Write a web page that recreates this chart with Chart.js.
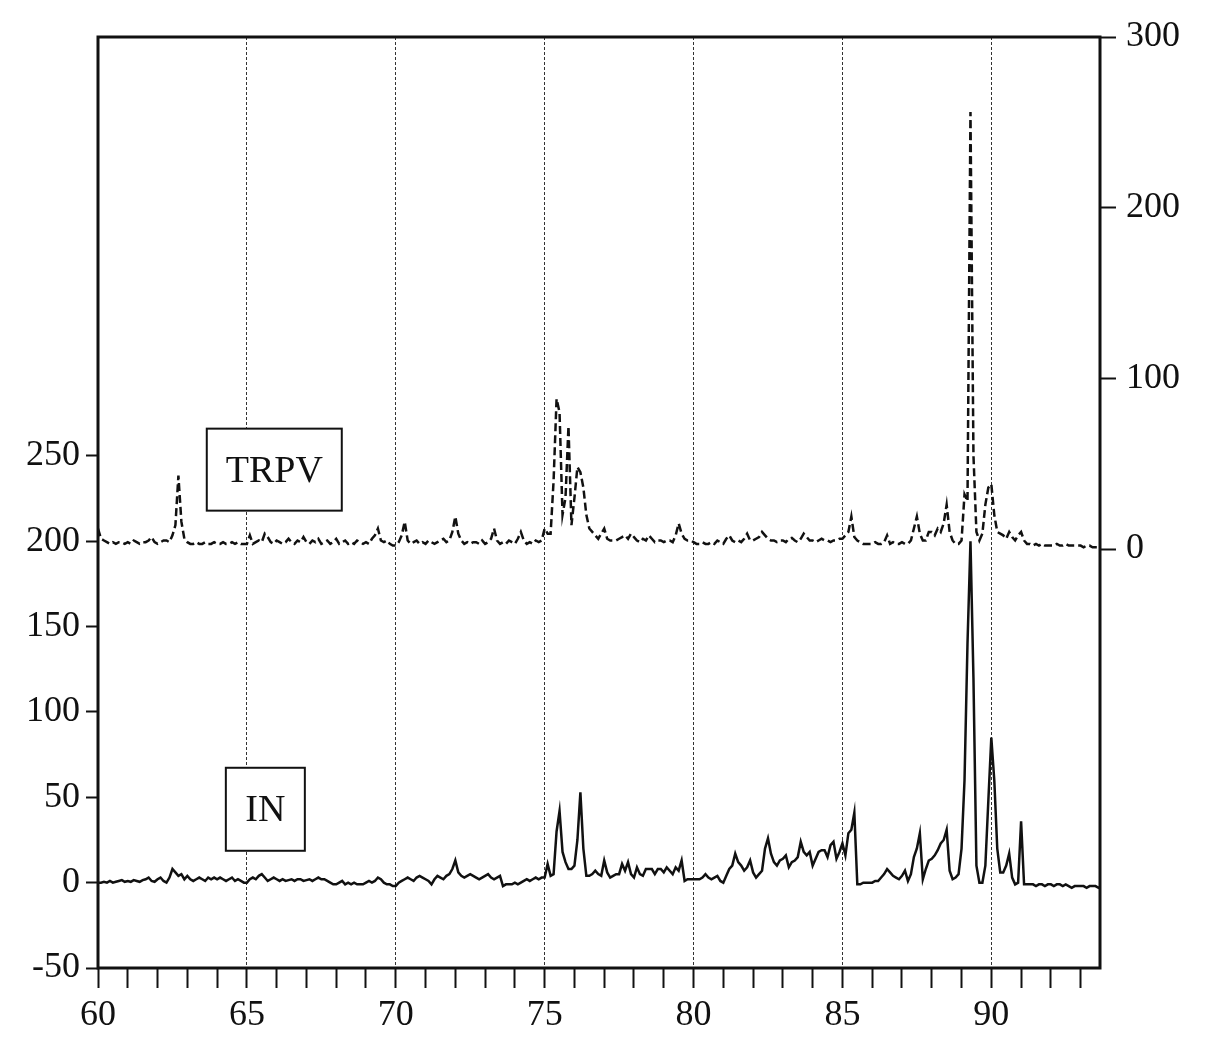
<!DOCTYPE html>
<html>
<head>
<meta charset="utf-8">
<script src="https://cdn.jsdelivr.net/npm/chart.js@4.4.1/dist/chart.umd.min.js"></script>
<style>
  html, body { margin: 0; padding: 0; background: #fff; }
  canvas { display: block; }
</style>
</head>
<body>
<canvas id="xrd" width="1212" height="1045"></canvas>
<script>
 // setup - values, 0.1 degree steps starting at 60.0
 const xStart = 60;
 const xStep = 0.1;

 // IN trace (left axis)
 const inValues = [
   0, 0, 0.5, 0, 1, 0, 0.5, 1, 1.5, 0.5,
   1, 0.5, 1.5, 1, 0.5, 1.5, 2, 3, 1, 0.5,
   2, 3, 1, 0, 3, 8, 6, 4, 5, 2,
   4, 2, 1, 2, 3, 2, 1, 3, 2, 3,
   2, 3, 2, 1, 2, 3, 1, 2, 1, 0,
   0, 2, 3, 2, 4, 5, 3, 1, 2, 3,
   2, 1, 2, 1, 1.5, 2, 1, 2, 2, 1,
   1.5, 2, 1, 2, 3, 2, 2, 1, 0, -1,
   -1, 0, 1, -1, 0, -1, 0, -1, -1, -1,
   0, 1, 0, 1, 3, 2, 0, -1, -1, -2,
   -2, 0, 1, 2, 3, 2, 1, 3, 4, 3,
   2, 1, -1, 2, 4, 3, 2, 4, 5, 8,
   13, 6, 4, 3, 4, 5, 4, 3, 2, 3,
   4, 5, 3, 2, 3, 4, -2, -1, -1, -1,
   0, -1, 0, 1, 2, 1, 2, 3, 2, 3,
   3, 11, 4, 5, 30, 42, 18, 12, 8, 8,
   10, 25, 53, 20, 4, 4, 5, 7, 5, 4,
   13, 6, 3, 4, 5, 5, 11, 7, 12, 5,
   3, 9, 5, 4, 8, 8, 8, 5, 8, 8,
   6, 9, 7, 5, 9, 7, 13, 1, 2, 2,
   2, 2, 2, 3, 5, 3, 2, 3, 4, 1,
   0, 4, 8, 10, 17, 12, 10, 7, 9, 13,
   6, 3, 5, 7, 20, 26, 17, 12, 10, 13,
   14, 16, 9, 12, 13, 15, 24, 18, 16, 18,
   10, 14, 18, 19, 19, 15, 22, 24, 14, 18,
   23, 16, 29, 31, 41, -1, -1, 0, 0, 0,
   0, 1, 1, 3, 5, 8, 6, 4, 3, 2,
   4, 7, 1, 5, 15, 20, 29, 2, 8, 13,
   14, 16, 19, 23, 25, 31, 7, 2, 3, 5,
   20, 60, 140, 200, 120, 10, 0, 0, 10, 48,
   85, 60, 20, 6, 6, 10, 17, 3, -1, 0,
   36, -1, -1, -1, -1, -2, -1, -1, -2, -1,
   -1, -2, -1, -1, -2, -1, -2, -3, -2, -2,
   -2, -2, -3, -2, -2, -2, -3, -2
 ];

 // TRPV trace (right axis)
 const trpvValues = [
   12, 6, 5, 4, 3, 4, 3, 4, 4, 3,
   4, 3, 5, 4, 3, 4, 4, 5, 7, 4,
   3, 4, 5, 5, 4, 8, 14, 43, 16, 6,
   4, 3, 3, 4, 3, 3, 4, 3, 3, 4,
   3, 3, 4, 3, 3, 4, 3, 4, 3, 3,
   3, 8, 3, 4, 5, 4, 9, 7, 4, 3,
   5, 4, 3, 4, 6, 4, 3, 5, 4, 7,
   4, 3, 5, 4, 6, 3, 4, 5, 3, 4,
   6, 3, 4, 5, 3, 4, 3, 5, 4, 3,
   4, 3, 6, 8, 12, 5, 4, 5, 3, 2,
   2, 4, 8, 16, 5, 3, 4, 5, 3, 4,
   3, 5, 4, 3, 4, 5, 6, 4, 5, 10,
   19, 9, 5, 3, 4, 3, 4, 4, 3, 5,
   3, 4, 6, 12, 5, 3, 4, 3, 5, 4,
   3, 6, 10, 5, 3, 4, 3, 5, 4, 5,
   12, 9, 9, 40, 88, 80, 20, 30, 72, 14,
   30, 48, 45, 36, 20, 12, 10, 8, 6, 9,
   12, 6, 5, 5, 5, 6, 7, 8, 6, 9,
   7, 5, 4, 6, 5, 8, 6, 4, 5, 5,
   4, 5, 5, 4, 8, 15, 9, 6, 5, 5,
   4, 3, 3, 4, 3, 3, 4, 3, 5, 4,
   3, 6, 8, 5, 4, 5, 4, 6, 9, 5,
   5, 6, 7, 10, 8, 6, 5, 5, 4, 5,
   5, 4, 6, 6.5, 5, 4, 6, 9, 7, 5,
   5, 4, 5, 6, 5, 5, 4, 5, 5, 6,
   6, 8, 10, 19, 7, 5, 4, 3, 3, 3,
   3, 4, 3, 3, 4, 8, 3, 4, 3, 3,
   4, 3, 3, 5, 12, 19, 9, 5, 5, 10,
   10, 8, 12, 10, 15, 26, 10, 5, 3, 3,
   5, 32, 28, 256, 55, 10, 5, 9, 26, 36,
   38, 20, 10, 9, 8, 6, 10, 7, 5, 8,
   10, 5, 3, 3, 2, 3, 2, 3, 2, 2,
   2, 2, 3, 2, 2, 3, 2, 2, 2, 2,
   2, 1, 2, 2, 1, 1, 1, 1
 ];

 // tick labels
 const xTicks = [60, 61, 62, 63, 64, 65, 66, 67, 68, 69, 70, 71, 72, 73, 74, 75, 76, 77,
   78, 79, 80, 81, 82, 83, 84, 85, 86, 87, 88, 89, 90, 91, 92, 93];
 const leftTicks = [-50, 0, 50, 100, 150, 200, 250];
 const rightTicks = [0, 100, 200, 300];

 // series labels (anchored in data units)
 const seriesLabels = [
   { text: 'TRPV', x: 65.92, y: 242, axis: 'y', w: 135, h: 82 },
   { text: 'IN', x: 65.62, y: 43, axis: 'y', w: 79, h: 83 }
 ];

 const toPoints = vals => vals.map((v, i) => ({ x: +(xStart + i * xStep).toFixed(1), y: v }));

 const serif = 'Liberation Serif, Times New Roman, serif';
 const ink = '#111';

 const framePlugin = {
   id: 'frame',
   afterDatasetsDraw(chart) {
     const { ctx, chartArea: a, scales } = chart;
     ctx.save();
     ctx.strokeStyle = ink;
     ctx.lineWidth = 3;
     ctx.strokeRect(a.left, a.top, a.right - a.left, a.bottom - a.top);

     ctx.font = '38px ' + serif;
     ctx.textAlign = 'center';
     ctx.textBaseline = 'middle';
     seriesLabels.forEach(l => {
       const cx = scales.x.getPixelForValue(l.x);
       const cy = scales[l.axis].getPixelForValue(l.y);
       ctx.fillStyle = '#fff';
       ctx.fillRect(cx - l.w / 2, cy - l.h / 2, l.w, l.h);
       ctx.lineWidth = 2;
       ctx.strokeRect(cx - l.w / 2, cy - l.h / 2, l.w, l.h);
       ctx.fillStyle = ink;
       ctx.fillText(l.text, cx, cy + 2);
     });
     ctx.restore();
   }
 };

 const ctx = document.getElementById('xrd').getContext('2d');
 const myChart = new Chart(ctx, {
   type: 'line',
   data: {
     datasets: [{
       label: 'TRPV',
       data: toPoints(trpvValues),
       yAxisID: 'y2',
       borderColor: ink,
       borderWidth: 2.5,
       borderDash: [8, 4],
       pointRadius: 0,
       tension: 0
     }, {
       label: 'IN',
       data: toPoints(inValues),
       yAxisID: 'y',
       borderColor: ink,
       borderWidth: 2.5,
       pointRadius: 0,
       tension: 0
     }]
   },
   options: {
     responsive: false,
     animation: false,
     layout: { padding: { top: 37, left: 0, right: 0, bottom: 0 } },
     plugins: {
       legend: false,
       tooltip: { enabled: false }
     },
     scales: {
       x: {
         type: 'linear',
         min: 60,
         max: 93.65,
         afterBuildTicks: scale => { scale.ticks = xTicks.map(v => ({ value: v })); },
         afterFit: scale => { scale.height = 77; },
         border: { display: false, dash: [3, 2] },
         grid: {
           color: c => (c.tick && c.tick.value % 5 === 0 && c.tick.value > 60) ? '#333' : 'rgba(0,0,0,0)',
           lineWidth: 1,
           tickColor: ink,
           tickWidth: 2,
           tickLength: 20,
           tickBorderDash: []
         },
         ticks: {
           autoSkip: false,
           maxRotation: 0,
           padding: 6,
           color: ink,
           font: { family: serif, size: 36 },
           callback: v => (v % 5 === 0 ? v : '')
         }
       },
       y: {
         position: 'left',
         min: -50,
         max: 495.5,
         afterBuildTicks: scale => { scale.ticks = leftTicks.map(v => ({ value: v })); },
         afterFit: scale => { scale.width = 98; },
         border: { display: false },
         grid: {
           drawOnChartArea: false,
           tickColor: ink,
           tickWidth: 2,
           tickLength: 12
         },
         ticks: {
           padding: 6,
           color: ink,
           font: { family: serif, size: 36 }
         }
       },
       y2: {
         position: 'right',
         min: -245.5,
         max: 300,
         afterBuildTicks: scale => { scale.ticks = rightTicks.map(v => ({ value: v })); },
         afterFit: scale => { scale.width = 112; },
         border: { display: false },
         grid: {
           drawOnChartArea: false,
           tickColor: ink,
           tickWidth: 2,
           tickLength: 16
         },
         ticks: {
           padding: 10,
           color: ink,
           font: { family: serif, size: 36 }
         }
       }
     }
   },
   plugins: [framePlugin]
 });
</script>
</body>
</html>
